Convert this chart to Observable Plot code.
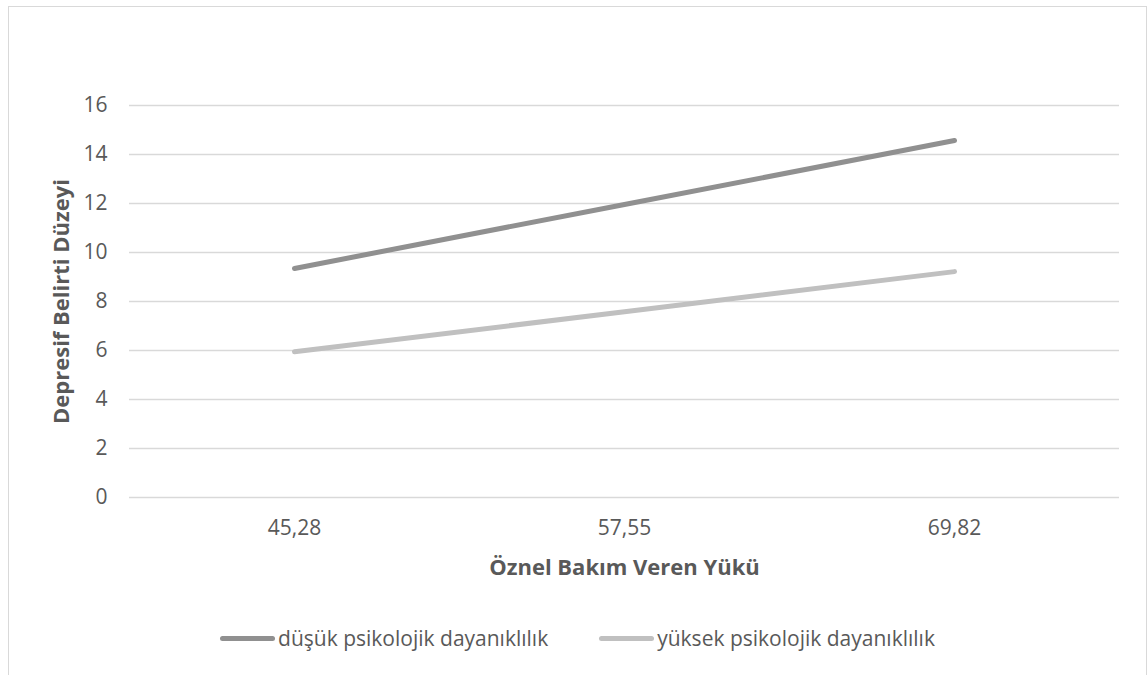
<!DOCTYPE html>
<html>
<head>
<meta charset="utf-8">
<script src="https://cdn.jsdelivr.net/npm/d3@7"></script>
<script src="https://cdn.jsdelivr.net/npm/@observablehq/plot@0.6"></script>
<style>
  html, body { margin: 0; padding: 0; background: #fff; }
  #wrap { position: relative; width: 1148px; height: 675px; overflow: hidden; font-family: "Open Sans", sans-serif; }
  #frame { position: absolute; left: 8px; top: 6px; width: 1139px; height: 720px; border: 1.5px solid #d9d9d9; box-sizing: border-box; }
  #chart { position: absolute; left: 0; top: 0; }
  #legend { position: absolute; left: 8px; top: 615px; width: 1139px; height: 46px; display: flex; justify-content: center; align-items: center; gap: 51px; font-size: 21px; color: #595959; }
  .item { display: flex; align-items: center; }
  .swatch { width: 55px; height: 5px; border-radius: 3px; margin-right: 3px; }
</style>
</head>
<body>
<div id="wrap">
  <div id="frame"></div>
  <div id="chart"></div>
  <div id="legend"></div>
</div>
<script>
const categories = ["45,28", "57,55", "69,82"];
const seriesNames = ["düşük psikolojik dayanıklılık", "yüksek psikolojik dayanıklılık"];
const dusuk = [9.35, 11.96, 14.57];
const yuksek = [5.95, 7.58, 9.22];
const yTicks = [0, 2, 4, 6, 8, 10, 12, 14, 16];
const seriesColors = ["#909090", "#c0c0c0"];
const xTitle = "Öznel Bakım Veren Yükü";
const yTitle = "Depresif Belirti Düzeyi";

const data = [];
categories.forEach((c, i) => {
  data.push({x: c, y: dusuk[i], s: seriesNames[0]});
  data.push({x: c, y: yuksek[i], s: seriesNames[1]});
});

const H = 615;
const chart = Plot.plot({
  width: 1148,
  height: H,
  marginLeft: 129,
  marginRight: 29,
  marginTop: 105,
  marginBottom: H - 497,
  x: {type: "point", domain: categories, padding: 0.5},
  y: {domain: [0, 16]},
  color: {domain: seriesNames, range: seriesColors},
  style: {fontFamily: "'Open Sans', sans-serif", fontSize: "21px", color: "#595959", background: "transparent", overflow: "visible"},
  marks: [
    Plot.gridY(yTicks, {stroke: "#d9d9d9", strokeOpacity: 1, strokeWidth: 1.3}),
    Plot.axisY(yTicks, {tickSize: 0, tickPadding: 22, label: null, fontSize: 21, fill: "#595959"}),
    Plot.axisX({tickSize: 0, tickPadding: 23, label: null, fontSize: 21, fill: "#595959"}),
    Plot.line(data, {x: "x", y: "y", z: "s", stroke: "s", strokeWidth: 5, strokeLinecap: "round", strokeLinejoin: "round"}),
    Plot.text([yTitle], {frameAnchor: "left", dx: -68, rotate: -90, textAnchor: "middle", lineAnchor: "middle", fontWeight: "bold", fontSize: 22, fill: "#595959"}),
    Plot.text([xTitle], {frameAnchor: "bottom", dy: 70, textAnchor: "middle", lineAnchor: "middle", fontWeight: "bold", fontSize: 22, fill: "#595959"})
  ]
});
document.getElementById("chart").appendChild(chart);

const legend = d3.select("#legend");
seriesNames.forEach((name, i) => {
  const item = legend.append("div").attr("class", "item");
  item.append("div").attr("class", "swatch").style("background", seriesColors[i]);
  item.append("span").text(name);
});
</script>
</body>
</html>
